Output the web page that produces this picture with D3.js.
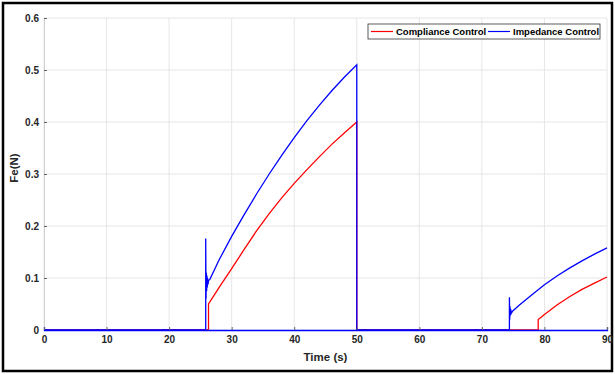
<!DOCTYPE html>
<html>
<head>
<meta charset="utf-8">
<script src="https://cdn.jsdelivr.net/npm/d3@7"></script>
<style>
  body { margin: 0; background: #fff; }
  svg { font-family: "Liberation Sans", Arial, sans-serif; }
</style>
</head>
<body>
<script>
// axis ticks
const xTicks = [0, 10, 20, 30, 40, 50, 60, 70, 80, 90];
const yTicks = [0, 0.1, 0.2, 0.3, 0.4, 0.5, 0.6];

// Compliance Control (red)
const complianceT = [0, 26.3, 26.3, 28, 30, 32, 34, 36, 38, 40, 42, 44, 46, 48, 50, 50,
                     79.0, 79.0, 80, 82, 84, 86, 88, 90];
const complianceF = [0, 0, 0.050, 0.082, 0.118, 0.155, 0.191, 0.224, 0.254, 0.282, 0.308, 0.333, 0.357, 0.379, 0.400, 0,
                     0, 0.020, 0.030, 0.048, 0.064, 0.078, 0.090, 0.102];

// Impedance Control (blue)
const impedanceT = [0, 25.85, 25.85, 25.9, 25.95, 26.0, 26.05, 26.1, 26.15, 26.2, 26.3, 26.5,
                    28, 30, 32, 34, 36, 38, 40, 42, 44, 46, 48, 50, 50,
                    74.4, 74.4, 74.45, 74.5, 74.55, 74.6, 74.7, 74.9,
                    76, 78, 80, 82, 84, 86, 88, 90];
const impedanceF = [0, 0, 0.176, 0.06, 0.11, 0.075, 0.105, 0.082, 0.10, 0.087, 0.095, 0.097,
                    0.135, 0.180, 0.222, 0.262, 0.300, 0.336, 0.370, 0.402, 0.432, 0.460, 0.486, 0.510, 0,
                    0, 0.063, 0.02, 0.045, 0.028, 0.040, 0.032, 0.036,
                    0.048, 0.068, 0.087, 0.104, 0.119, 0.133, 0.146, 0.158];

const seriesNames = ["Compliance Control", "Impedance Control"];
const seriesColors = ["#ff0000", "#0000ff"];

const W = 615, H = 374;
const margin = { left: 44, right: 8, top: 18, bottom: 44 };

const svg = d3.select('body').append('svg')
    .attr('width', W)
    .attr('height', H);

// outer frame
svg.append('rect')
    .attr('x', 3).attr('y', 3)
    .attr('width', W - 6).attr('height', H - 6)
    .attr('fill', '#fff')
    .attr('stroke', '#000')
    .attr('stroke-width', 2.5);

const x = d3.scaleLinear().domain([0, 90]).range([margin.left, W - margin.right]);
const y = d3.scaleLinear().domain([0, 0.6]).range([H - margin.bottom, margin.top]);

// grid
const grid = svg.append('g').attr('class', 'grid');
grid.selectAll('line.vx')
    .data(xTicks)
    .enter().append('line')
    .attr('x1', d => x(d)).attr('x2', d => x(d))
    .attr('y1', y(0)).attr('y2', y(0.6))
    .attr('stroke', '#e6e6e6').attr('stroke-width', 1);
grid.selectAll('line.hy')
    .data(yTicks)
    .enter().append('line')
    .attr('x1', x(0)).attr('x2', x(90))
    .attr('y1', d => y(d)).attr('y2', d => y(d))
    .attr('stroke', '#e6e6e6').attr('stroke-width', 1);

// axes
const yAxis = svg.append('g')
    .attr('transform', `translate(${x(0)},0)`)
    .call(d3.axisLeft(y).tickValues(yTicks).tickSize(-3).tickPadding(5)
        .tickFormat(d => d === 0 ? '0' : d3.format('.1f')(d)));
yAxis.select('.domain').attr('stroke', '#d0d0d0');

// lines
const line = d3.line().x(d => x(d[0])).y(d => y(d[1]));
const compliance = complianceT.map((t, i) => [t, complianceF[i]]);
const impedance = impedanceT.map((t, i) => [t, impedanceF[i]]);

svg.append('path')
    .datum(compliance)
    .attr('fill', 'none')
    .attr('stroke', seriesColors[0])
    .attr('stroke-width', 1.3)
    .attr('d', line);

svg.append('path')
    .datum(impedance)
    .attr('fill', 'none')
    .attr('stroke', seriesColors[1])
    .attr('stroke-width', 1.3)
    .attr('d', line);

// x axis on top, blue baseline like the reference
const xAxis = svg.append('g')
    .attr('transform', `translate(0,${y(0)})`)
    .call(d3.axisBottom(x).tickValues(xTicks).tickSize(-3).tickPadding(6).tickFormat(d3.format('d')));
xAxis.select('.domain').attr('stroke', seriesColors[1]).attr('stroke-width', 1.3);

[xAxis, yAxis].forEach(a => {
    a.selectAll('.tick line').attr('stroke', '#666');
    a.selectAll('.tick text')
        .attr('fill', '#262626')
        .style('font-size', '10px')
        .style('font-weight', 'bold');
});

// axis labels
svg.append('text')
    .attr('x', x(45))
    .attr('y', 361)
    .attr('text-anchor', 'middle')
    .attr('fill', '#262626')
    .style('font-size', '11.5px')
    .style('font-weight', 'bold')
    .text('Time (s)');

svg.append('text')
    .attr('transform', 'translate(18,168) rotate(-90)')
    .attr('text-anchor', 'middle')
    .attr('fill', '#262626')
    .style('font-size', '11.5px')
    .style('font-weight', 'bold')
    .text('Fe(N)');

// legend
const legend = svg.append('g').attr('transform', 'translate(368,24)');
legend.append('rect')
    .attr('width', 232).attr('height', 15)
    .attr('fill', '#fff')
    .attr('stroke', '#333')
    .attr('stroke-width', 0.8);

const legendX = [3, 120];
seriesNames.forEach((name, i) => {
    const g = legend.append('g').attr('transform', `translate(${legendX[i]},0)`);
    g.append('line')
        .attr('x1', 0).attr('x2', 22)
        .attr('y1', 7.5).attr('y2', 7.5)
        .attr('stroke', seriesColors[i])
        .attr('stroke-width', 1.2);
    g.append('text')
        .attr('x', 25).attr('y', 11)
        .attr('fill', '#000')
        .style('font-size', '9.5px')
        .style('font-weight', 'bold')
        .text(name);
});
</script>
</body>
</html>
